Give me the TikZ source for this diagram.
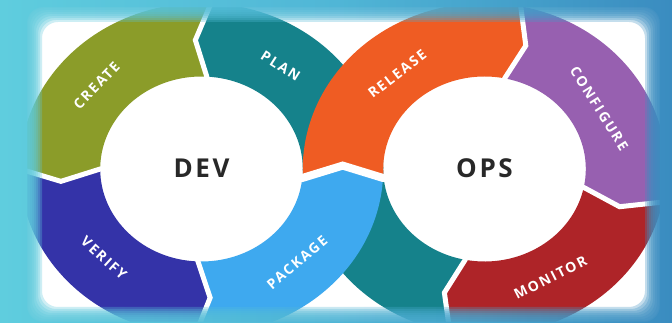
\documentclass[tikz,border=0pt]{standalone}
\usepackage{fontspec}
\setmainfont{Open Sans}
\newfontfamily\labfont[LetterSpace=13]{Open Sans}
\newfontfamily\bigfont[LetterSpace=10]{Open Sans}
\definecolor{cCreate}{RGB}{139,156,41}
\definecolor{cPlan}{RGB}{21,130,139}
\definecolor{cVerify}{RGB}{52,51,168}
\definecolor{cPackage}{RGB}{62,169,239}
\definecolor{cRelease}{RGB}{239,92,35}
\definecolor{cConfig}{RGB}{151,96,176}
\definecolor{cMonitor}{RGB}{174,36,40}
\definecolor{frameL}{RGB}{95,205,222}
\definecolor{frameM}{RGB}{80,182,214}
\definecolor{frameR}{RGB}{58,140,192}
\definecolor{bigtext}{RGB}{40,40,40}
\newcommand\ringRo{166}
\newcommand\ringRi{92.5}
\newcommand\ringRm{129}
% #1 colour, #2 start outer angle, #3 start inner angle, #4 start notch angle,
% #5 end outer angle, #6 end inner angle, #7 end tip angle
\newcommand\ringseg[7]{%
  \fill[#1] (#2:\ringRo) arc[start angle=#2, end angle=#5, radius=\ringRo]
    -- (#7:\ringRm) -- (#6:\ringRi)
    arc[start angle=#6, end angle=#3, radius=\ringRi]
    -- (#4:\ringRm) -- cycle;}
% #1 outer angle, #2 inner angle, #3 tip angle, #4 width
\newcommand\ringsep[4]{%
  \draw[white, line width=#4, line join=miter]
    ({#1}:{\ringRo+6}) -- (#1:\ringRo) -- (#3:\ringRm) -- (#2:\ringRi) -- ({#2}:{\ringRi-6});}
\tikzset{
  lab/.style={text=white, inner sep=0pt, font=\labfont\bfseries\fontsize{14}{14}\selectfont},
  big/.style={text=bigtext, inner sep=0pt, font=\bigfont\bfseries\fontsize{26}{26}\selectfont},
  framelayer/.style={left color=frameL, right color=frameR, middle color=frameM, even odd rule},
}
\begin{document}
\begin{tikzpicture}[x=1pt,y=1pt]
\useasboundingbox (0,0) rectangle (672,323);
\fill[white] (0,0) rectangle (672,323);
% teal band (bottom layer)
\begin{scope}[shift={(201.5,154)}, xscale=1.095]
  \ringseg{cPlan}{0}{0}{0}{87}{87}{92.5}
\end{scope}
\begin{scope}[shift={(484.5,154)}, xscale=1.095]
  \ringseg{cPlan}{-101}{-101}{-106.5}{-180}{-180}{-180}
\end{scope}
% DEV ring
\begin{scope}[shift={(201.5,154)}, xscale=1.095]
  \ringseg{cCreate}{87}{87}{92.5}{180}{180}{185.5}
  \ringseg{cVerify}{180}{180}{185.5}{268}{268}{273.5}
  \ringseg{cPackage}{268}{268}{273.5}{356.9}{354.42}{361.5}
\end{scope}
% OPS ring
\begin{scope}[shift={(484.5,154)}, xscale=1.095]
  \ringseg{cRelease}{183.1}{185.58}{178.5}{78.5}{78.5}{73}
  \ringseg{cConfig}{78.5}{78.5}{73}{-11.5}{-11.5}{-17}
  \ringseg{cMonitor}{-11.5}{-11.5}{-17}{-101}{-101}{-106.5}
\end{scope}
% separators and labels
\begin{scope}[shift={(201.5,154)}, xscale=1.095]
  \ringsep{87}{87}{92.5}{5}
  \ringsep{180}{180}{185.5}{5}
  \ringsep{268}{268}{273.5}{5}
  \ringsep{356.9}{354.42}{361.5}{8}
  \node[lab, rotate=-32.6] (plan) at (55:126) {PLAN};
  \node[lab, rotate=46.4] (create) at (139:127) {CREATE};
  \node[lab, rotate=-42.4] (verify) at (225:126) {VERIFY};
  \node[lab, rotate=40.4] (package) at (-47:128) {PACKAGE};
  \node[big] (dev) at (0,1) {DEV};
\end{scope}
\begin{scope}[shift={(484.5,154)}, xscale=1.095]
  \ringsep{78.5}{78.5}{73}{5}
  \ringsep{-11.5}{-11.5}{-17}{5}
  \ringsep{-101}{-101}{-106.5}{5}
  \node[lab, rotate=37.5] (release) at (130:124) {RELEASE};
  \node[lab, rotate=-57.7] (configure) at (30:121) {CONFIGURE};
  \node[lab, rotate=26.8] (monitor) at (-61:124) {MONITOR};
  \node[big] (ops) at (0,1) {OPS};
\end{scope}
% blurred frame
\foreach \d in {-7,-5,...,7}{
  \shade[framelayer, fill opacity=0.3]
    (0,0) rectangle (672,323)
    [rounded corners=16] ({35-\d},{9-\d}) rectangle ({652+\d},{308+\d});
}
\shade[framelayer]
  (0,0) rectangle (672,323)
  [rounded corners=16] (27,1) rectangle (660,316);
\end{tikzpicture}
\end{document}
